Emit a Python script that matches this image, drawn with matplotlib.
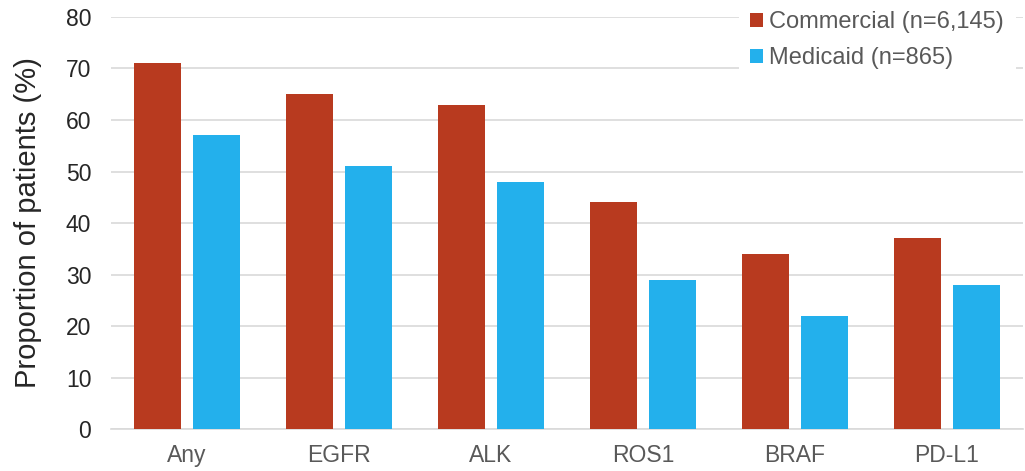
import numpy as np
import matplotlib.pyplot as plt

plt.rcParams['font.family'] = ['Liberation Sans', 'DejaVu Sans']

biomarkers = ['Any', 'EGFR', 'ALK', 'ROS1', 'BRAF', 'PD-L1']
commercial = [71, 65, 63, 44, 34, 37]
medicaid = [57, 51, 48, 29, 22, 28]

red = '#B83A1F'
blue = '#23B0EC'
grid_col = '#D9D9D9'

fig = plt.figure(figsize=(10.25, 4.71), dpi=100)
ax = fig.add_axes([0.108, 0.089, 0.89, 0.875])

x = np.arange(len(biomarkers))
w = 0.31
off = 0.195
ax.bar(x - off, commercial, width=w, color=red, label='Commercial (n=6,145)', zorder=3)
ax.bar(x + off, medicaid, width=w, color=blue, label='Medicaid (n=865)', zorder=3)

ax.set_xlim(-0.5, len(biomarkers) - 0.5)
ax.set_ylim(0, 80)
ax.set_yticks(range(0, 81, 10))
ax.set_xticks(x)
ax.set_xticklabels(biomarkers, fontsize=16.5, color='#595959')
ax.tick_params(axis='y', labelsize=16.5, labelcolor='#262626', length=0, pad=14)
ax.tick_params(axis='x', length=0, pad=11)
ax.set_ylabel('Proportion of patients (%)', fontsize=21, color='#262626', labelpad=17)

ax.yaxis.grid(True, color=grid_col, linewidth=1.2, zorder=0)
for side in ['top', 'right', 'left']:
    ax.spines[side].set_visible(False)
ax.spines['bottom'].set_color(grid_col)
ax.spines['bottom'].set_linewidth(1.2)

leg = ax.legend(loc='upper right', bbox_to_anchor=(1.0, 1.06), fontsize=17,
                frameon=True, facecolor='white', edgecolor='white', framealpha=1,
                handlelength=0.55, handleheight=0.55, handletextpad=0.25,
                borderpad=0.5, borderaxespad=0.3, labelspacing=0.6)
leg.get_frame().set_linewidth(0)
for t in leg.get_texts():
    t.set_color('#595959')
leg.set_zorder(5)

fig.savefig('out.png', dpi=100)
